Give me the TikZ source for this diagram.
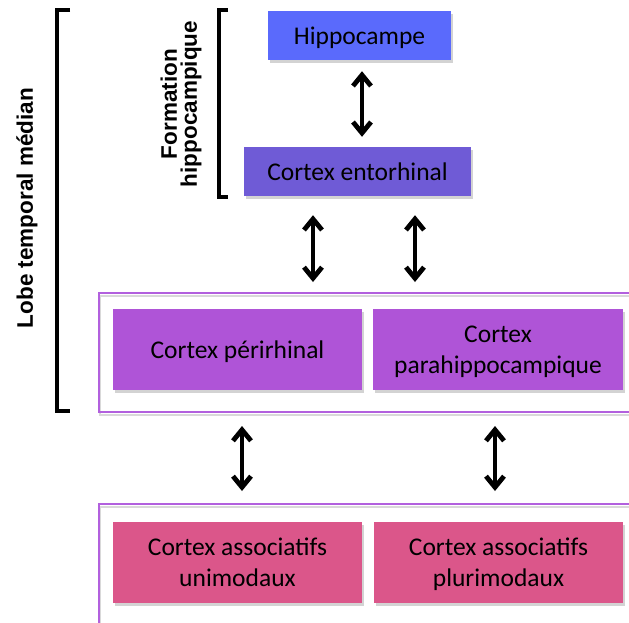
\documentclass[tikz,border=0pt]{standalone}
\usepackage{fontspec}
\setmainfont{Carlito}
\newfontfamily\labelfont{Liberation Sans}
\usetikzlibrary{positioning}
\usetikzlibrary{arrows.meta,shadows}

\definecolor{hippoblue}{RGB}{90,106,252}
\definecolor{entoviolet}{RGB}{111,91,214}
\definecolor{cortexpurple}{RGB}{175,84,215}
\definecolor{framepurple}{RGB}{178,96,222}
\definecolor{assocpink}{RGB}{219,86,138}

\begin{document}
\begin{tikzpicture}[x=1pt,y=-1pt,
    box/.style={rectangle, inner sep=0pt, align=center, text=black, text depth=0pt,
        font=\fontsize{25.5}{31}\selectfont,
        drop shadow={shadow xshift=2pt, shadow yshift=-3pt, opacity=0.35}},
    frame/.style={rectangle, inner sep=0pt, anchor=north west, draw=framepurple, line width=2pt,
        minimum width=560pt,
        drop shadow={shadow xshift=1pt, shadow yshift=-3pt, fill=none, draw=black, line width=2pt, opacity=0.15}},
    biarrow/.style={line width=4.8pt, line cap=round, line join=round,
        {Straight Barb[length=11pt, width=18pt]}-{Straight Barb[length=11pt, width=18pt]}},
    bracket/.style={line width=4pt, line join=miter},
    sidelabel/.style={font=\labelfont\bfseries\fontsize{22.5}{20}\selectfont, rotate=90, align=center}
]
    \useasboundingbox (0,0) rectangle (629,622);
    \clip (0,0) rectangle (629,622);

    %Nodes
    \node[box, fill=hippoblue, minimum width=183pt, minimum height=49pt] (hippo) at (359.5,35.5) {Hippocampe};
    \node[box, fill=entoviolet, minimum width=227pt, minimum height=49pt] (ento) at (357.5,171.5) {Cortex entorhinal};

    \node[frame, minimum height=119pt] (medframe) at (97.7,292) {};
    \node[box, fill=cortexpurple, minimum width=249pt, minimum height=81pt] (peri) at (237.5,349.5) {Cortex périrhinal};
    \node[box, fill=cortexpurple, minimum width=250pt, minimum height=81pt] (para) at (498,349.5) {Cortex\\parahippocampique};

    \node[frame, minimum height=150pt] (assocframe) at (97.7,503) {};
    \node[box, fill=assocpink, minimum width=249pt, minimum height=81pt] (uni) at (237.5,562.5) {Cortex associatifs\\unimodaux};
    \node[box, fill=assocpink, minimum width=249pt, minimum height=81pt] (pluri) at (498.5,562.5) {Cortex associatifs\\plurimodaux};

    \node[sidelabel] (formlabel) at (181,104) {Formation\\hippocampique};
    \node[sidelabel] (lobelabel) at (27,208) {Lobe temporal médian};

    %Brackets
    \coordinate (lobetop)    at (57,10);
    \coordinate (lobebottom) at (57,411);
    \coordinate (formtop)    at (219,10);
    \coordinate (formbottom) at (219,197);
    \draw[bracket] ([xshift=13pt]lobetop) -- (lobetop) -- (lobebottom) -- ([xshift=13pt]lobebottom);
    \draw[bracket] ([xshift=9pt]formtop) -- (formtop) -- (formbottom) -- ([xshift=9pt]formbottom);

    %Arrows
    \draw[biarrow, shorten <=11pt, shorten >=10pt] ([xshift=2.5pt]hippo.south) -- ([xshift=2.5pt]hippo.south |- ento.north);
    \draw[biarrow, shorten <=19pt, shorten >=10pt] ([xshift=-44.5pt]ento.south) -- ([xshift=-44.5pt]ento.south |- medframe.north);
    \draw[biarrow, shorten <=19pt, shorten >=10pt] ([xshift=57.5pt]ento.south) -- ([xshift=57.5pt]ento.south |- medframe.north);
    \draw[biarrow, shorten <=13pt, shorten >=12pt] ([xshift=4.5pt]peri.south |- medframe.south) -- ([xshift=4.5pt]peri.south |- assocframe.north);
    \draw[biarrow, shorten <=13pt, shorten >=12pt] ([xshift=-3pt]para.south |- medframe.south) -- ([xshift=-3pt]para.south |- assocframe.north);
\end{tikzpicture}
\end{document}
